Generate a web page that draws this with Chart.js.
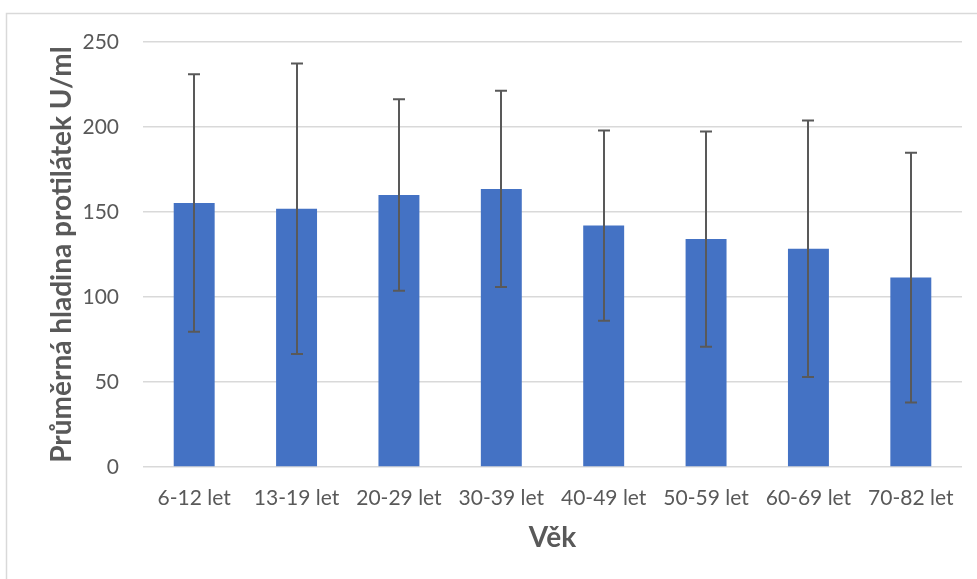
<!DOCTYPE html>
<html>
<head>
<meta charset="utf-8">
<script src="https://cdn.jsdelivr.net/npm/chart.js@4"></script>
<style>
    html, body { margin: 0; padding: 0; background: #fff; }
    canvas { display: block; }
</style>
</head>
<body>
<canvas id="ageChart" width="977" height="579"></canvas>
<script>
var ageGroups = ['6-12 let', '13-19 let', '20-29 let', '30-39 let', '40-49 let', '50-59 let', '60-69 let', '70-82 let'];
var meanLevels = [155.3, 151.9, 160.0, 163.6, 142.0, 134.1, 128.4, 111.4];
var sdLevels = [75.8, 85.5, 56.3, 57.7, 55.9, 63.3, 75.4, 73.5];
var yTicks = [0, 50, 100, 150, 200, 250];

var textColor = '#595959';
var gridColor = '#d9d9d9';

// outer frame of the chart object
var framePlugin = {
    id: 'frame',
    beforeDraw: function (chart) {
        var ctx = chart.ctx;
        ctx.save();
        ctx.fillStyle = '#fff';
        ctx.fillRect(0, 0, chart.width, chart.height);
        ctx.strokeStyle = gridColor;
        ctx.lineWidth = 1.5;
        ctx.beginPath();
        ctx.moveTo(6.5, chart.height);
        ctx.lineTo(6.5, 13.5);
        ctx.lineTo(chart.width, 13.5);
        ctx.stroke();
        ctx.restore();
    }
};

// standard deviation whiskers
var errorBarPlugin = {
    id: 'errorBars',
    afterDatasetsDraw: function (chart) {
        var ctx = chart.ctx;
        var yScale = chart.scales.y;
        var meta = chart.getDatasetMeta(0);
        ctx.save();
        ctx.strokeStyle = textColor;
        ctx.lineWidth = 2;
        meta.data.forEach(function (bar, i) {
            var top = yScale.getPixelForValue(meanLevels[i] + sdLevels[i]);
            var bottom = yScale.getPixelForValue(meanLevels[i] - sdLevels[i]);
            var x = Math.round(bar.x);
            ctx.beginPath();
            ctx.moveTo(x, top);
            ctx.lineTo(x, bottom);
            ctx.moveTo(x - 6, top);
            ctx.lineTo(x + 6, top);
            ctx.moveTo(x - 6, bottom);
            ctx.lineTo(x + 6, bottom);
            ctx.stroke();
        });
        ctx.restore();
    }
};

new Chart(document.getElementById('ageChart'), {
    type: 'bar',
    data: {
        labels: ageGroups,
        datasets: [{
            data: meanLevels,
            backgroundColor: '#4472c4',
            borderWidth: 0,
            categoryPercentage: 1,
            barPercentage: 0.4
        }]
    },
    options: {
        responsive: false,
        animation: false,
        devicePixelRatio: 1,
        layout: {
            padding: { left: 0, top: 42, right: 15, bottom: 0 }
        },
        plugins: {
            legend: { display: false },
            tooltip: { enabled: false }
        },
        scales: {
            x: {
                grid: { display: false },
                border: { display: false },
                ticks: {
                    color: textColor,
                    font: { family: 'Lato', size: 21 },
                    padding: 11,
                    maxRotation: 0,
                    autoSkip: false
                },
                title: {
                    display: true,
                    text: 'Věk',
                    color: textColor,
                    font: { family: 'Lato', size: 28, weight: 'bold' },
                    padding: { top: 0, bottom: 24 }
                },
                afterFit: function (scale) { scale.height = 112; }
            },
            y: {
                min: 0,
                max: 250,
                grid: { color: gridColor, lineWidth: 1.5, drawTicks: false },
                border: { display: false },
                afterBuildTicks: function (scale) {
                    scale.ticks = yTicks.map(function (v) { return { value: v }; });
                },
                ticks: {
                    color: textColor,
                    font: { family: 'Lato', size: 21 },
                    padding: 24
                },
                title: {
                    display: true,
                    text: 'Průměrná hladina protilátek U/ml',
                    color: textColor,
                    font: { family: 'Lato', size: 28, weight: 'bold' },
                    padding: { top: 45, bottom: 30 }
                },
                afterFit: function (scale) { scale.width = 143; }
            }
        }
    },
    plugins: [framePlugin, errorBarPlugin]
});
</script>
</body>
</html>
